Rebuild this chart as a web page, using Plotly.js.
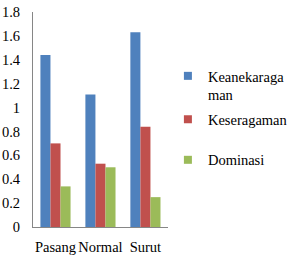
<!DOCTYPE html>
<html><head><meta charset="utf-8">
<script src="https://cdn.plot.ly/plotly-3.0.1.min.js"></script>
<style>html,body{margin:0;padding:0;background:#fff}#c{width:289px;height:255px}</style>
</head><body><div id="c"></div>
<script>
const categories = ["Pasang", "Normal", "Surut"];
const seriesNames = ["Keanekaragaman", "Keseragaman", "Dominasi"];
const legendLabels = ["Keanekaraga<br>man", "Keseragaman", "Dominasi"];
const keanekaragaman = [1.44, 1.11, 1.63];
const keseragaman = [0.70, 0.53, 0.84];
const dominasi = [0.34, 0.50, 0.25];
const yTicks = [0, 0.2, 0.4, 0.6, 0.8, 1, 1.2, 1.4, 1.6, 1.8];

const colors = ["#4F81BD", "#C0504D", "#9BBB59"];
const values = [keanekaragaman, keseragaman, dominasi];
const font = {family: "Liberation Serif", size: 14.5, color: "#000"};

const traces = [];
values.forEach((v, i) => {
  traces.push({type: "bar", x: categories, y: v, name: seriesNames[i],
    marker: {color: colors[i]}, showlegend: false});
});
const legendIds = ["legend", "legend2", "legend3"];
values.forEach((v, i) => {
  traces.push({type: "scatter", mode: "markers", x: [null], y: [null], name: legendLabels[i],
    marker: {color: colors[i], symbol: "square", size: 8}, legend: legendIds[i], hoverinfo: "skip"});
});

function leg(y) {
  return {xref: "container", yref: "container", x: 0.581, xanchor: "left", y: y, yanchor: "middle", font: font,
    bgcolor: "rgba(0,0,0,0)", itemwidth: 30, valign: "top", tracegroupgap: 0};
}

const layout = {
  width: 289, height: 255,
  margin: {l: 33, r: 116, t: 12, b: 28},
  paper_bgcolor: "#fff", plot_bgcolor: "#fff",
  font: font,
  barmode: "group", bargap: 0.33, bargroupgap: 0,
  xaxis: {type: "category", showline: true, linecolor: "#868686", linewidth: 1, automargin: false,
    showgrid: false, zeroline: false, ticks: "", tickangle: 0, ticklabelstandoff: 7, tickfont: font, fixedrange: true},
  yaxis: {range: [0, 1.8], tickvals: yTicks, ticktext: yTicks.map(String), showline: true, automargin: false,
    linecolor: "#868686", linewidth: 1, showgrid: false, zeroline: false, ticks: "",
    ticklabelstandoff: 9, tickfont: font, fixedrange: true},
  legend: leg(0.665),
  legend2: leg(0.532),
  legend3: leg(0.373),
  showlegend: true
};
Plotly.newPlot("c", traces, layout, {displayModeBar: false, staticPlot: true});
</script></body></html>
